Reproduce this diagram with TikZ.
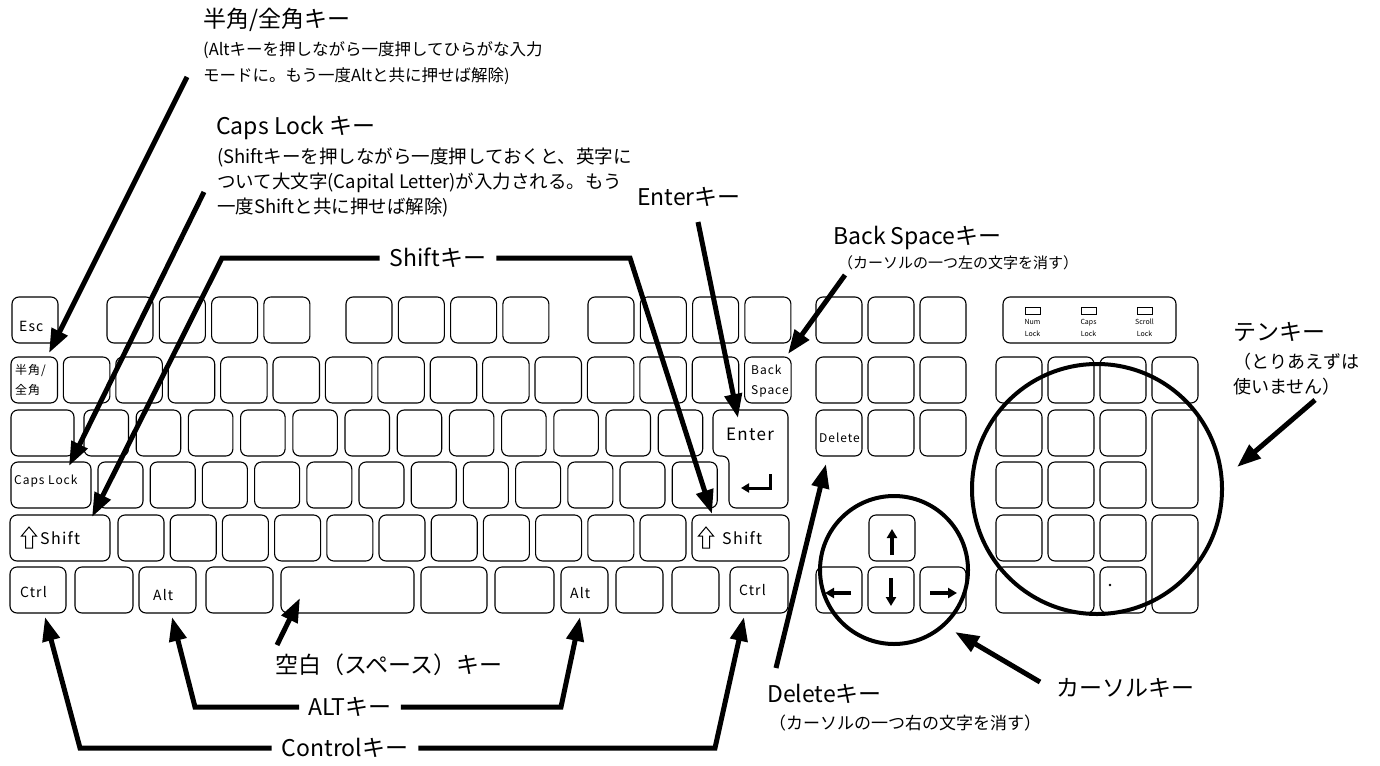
\documentclass[tikz,border=0pt]{standalone}
\usepackage{fontspec}
\newfontfamily\jp{Noto Sans CJK JP}
\newfontfamily\jpk[LetterSpace=8]{Noto Sans CJK JP}
\usetikzlibrary{arrows.meta}
\newcommand{\kb}[5]{\node[kbox, minimum width={(#4-#2)*1pt}, minimum height={(#5-#3)*1pt}] (#1) at ({(#2+#4)/2},{(#3+#5)/2}) {};}
\begin{document}
\begin{tikzpicture}[x=1pt,y=-1pt,
  kbox/.style={draw, rounded corners=7pt, line width=1.1pt, inner sep=0pt},
  ptr/.style={line width=5pt, -{Triangle[length=24pt,width=17pt]}},
  glyph/.style={line width=3.5pt, -{Triangle[length=9pt,width=10pt]}},
  ttl/.style={font=\jp\fontsize{23}{28}\selectfont, inner sep=0pt},
  sub/.style={font=\jp\fontsize{#1}{#1}\selectfont, inner sep=0pt, anchor=west},
  kl/.style={font=\jpk\fontsize{#1}{#1}\selectfont, inner sep=0pt, anchor=west},
  kl2/.style={font=\jpk\fontsize{12}{20}\selectfont, inner sep=0pt, anchor=west, align=left},
  led/.style={draw, line width=0.8pt, minimum width=15pt, minimum height=7pt, inner sep=0pt},
  ledt/.style={font=\jp\fontsize{7}{11.5}\selectfont, inner sep=0pt, align=center}
]
\useasboundingbox (0,0) rectangle (1380,765);

% ---------- row 1 ----------
\kb{esc}{12}{297}{58}{343}
\foreach \i in {0,...,3}{
  \pgfmathsetmacro\xa{107+52.3*\i}\kb{fa\i}{\xa}{297}{\xa+46}{343}
  \pgfmathsetmacro\xb{346+52.3*\i}\kb{fb\i}{\xb}{297}{\xb+46}{343}
  \pgfmathsetmacro\xc{588+52.3*\i}\kb{fc\i}{\xc}{297}{\xc+46}{343}
}
\foreach \i in {0,1,2}{
  \pgfmathsetmacro\xa{816+52*\i}
  \kb{na\i}{\xa}{297}{\xa+46}{343}
  \kb{nb\i}{\xa}{357}{\xa+46}{403}
  \kb{nc\i}{\xa}{410}{\xa+46}{456}
}
% ---------- row 2 ----------
\foreach \i in {0,...,14}{\pgfmathsetmacro\xa{11+52.4*\i}\kb{rb\i}{\xa}{357}{\xa+46.5}{403}}
% ---------- row 3 ----------
\kb{tab}{11}{410}{74}{456}
\foreach \i in {0,...,11}{\pgfmathsetmacro\xa{84+52.2*\i}\kb{rc\i}{\xa}{410}{\xa+44.5}{456}}
\draw[line width=1.1pt, rounded corners=7pt] (713,410) -- (788,410) -- (788,508) -- (729,508) -- (729,456) -- (713,456) -- cycle;
% ---------- row 4 ----------
\kb{caps}{11}{462}{91}{508}
\foreach \i in {0,...,11}{\pgfmathsetmacro\xa{98+52.2*\i}\kb{rd\i}{\xa}{462}{\xa+45}{508}}
% ---------- row 5 ----------
\kb{shl}{10}{515}{110}{561}
\foreach \i in {0,...,10}{\pgfmathsetmacro\xa{118+52.2*\i}\kb{re\i}{\xa}{515}{\xa+46}{561}}
\kb{shr}{692}{515}{789}{561}
% ---------- row 6 ----------
\kb{ctl}{10}{567}{66}{613}
\kb{rfa}{75}{567}{133}{613}
\kb{altl}{139}{567}{196}{613}
\kb{rfb}{206}{567}{273}{613}
\kb{spc}{281}{567}{414}{613}
\kb{rfc}{421}{567}{487}{613}
\kb{rfd}{495}{567}{554}{613}
\kb{altr}{561}{567}{608}{613}
\kb{rfe}{616}{567}{663}{613}
\kb{rff}{672}{567}{719}{613}
\kb{ctr}{730}{567}{788}{613}
% ---------- cursor keys ----------
\kb{kup}{869}{515}{915}{561}
\kb{kleft}{816}{567}{862}{613}
\kb{kdown}{868}{567}{914}{613}
\kb{kright}{920}{567}{966}{613}
% ---------- numpad ----------
\kb{ind}{1003}{297}{1176}{343}
\foreach \i in {0,1,2,3}{\pgfmathsetmacro\xa{996+52*\i}\kb{npa\i}{\xa}{357}{\xa+46}{403}}
\foreach \i in {0,1,2}{
  \pgfmathsetmacro\xa{996+52*\i}
  \kb{npb\i}{\xa}{410}{\xa+46}{456}
  \kb{npc\i}{\xa}{462}{\xa+46}{508}
  \kb{npd\i}{\xa}{515}{\xa+46}{561}
}
\kb{npplus}{1152}{410}{1198}{508}
\kb{npent}{1152}{515}{1198}{613}
\kb{npzero}{996}{567}{1094}{613}
\kb{npdot}{1100}{567}{1146}{613}
\fill (1110,585) circle (1.3pt);
% LEDs
\node[led] (led1) at (1032.5,310.5) {};
\node[led] (led2) at (1088.5,310.5) {};
\node[led] (led3) at (1144.5,310.5) {};
\node[ledt] (led1t) at (1032.5,328) {Num\\Lock};
\node[ledt] (led2t) at (1088.5,328) {Caps\\Lock};
\node[ledt] (led3t) at (1144.5,328) {Scroll\\Lock};

% ---------- key labels ----------
\node[kl=14] (tesc) at (19,326) {Esc};
\node[kl2] (thz) at (15,380) {半角/\\全角};
\node[kl2] (tbs) at (751,381) {Back\\Space};
\node[kl=17, anchor=center] (tent) at (750,434) {Enter};
\node[kl=12] (tcaps) at (14,481) {Caps Lock};
\node[kl=16] (tshl) at (40,538) {Shift};
\node[kl=16] (tshr) at (722,538) {Shift};
\node[kl=14] (tctl) at (20,592) {Ctrl};
\node[kl=14] (taltl) at (153,595) {Alt};
\node[kl=14] (taltr) at (570,593) {Alt};
\node[kl=14] (tctr) at (739,590) {Ctrl};
\node[kl=12] (tdel) at (819,438) {Delete};
% shift glyphs
\draw[line width=1pt, line join=miter] (29,527) -- (36.5,536) -- (32.5,536) -- (32.5,548) -- (25.5,548) -- (25.5,536) -- (21.5,536) -- cycle;
\draw[line width=1pt, line join=miter] (706,527) -- (713.5,536) -- (709.5,536) -- (709.5,548) -- (702.5,548) -- (702.5,536) -- (698.5,536) -- cycle;
% return glyph
\draw[line width=3pt, -{Triangle[length=8pt,width=9pt]}] (770,474) -- (770,488) -- (741,488);
% arrow glyphs
\draw[glyph] (892,555) -- (892,529);
\draw[glyph] (891,578) -- (891,606);
\draw[glyph] (851,593) -- (825,593);
\draw[glyph] (930,593) -- (957,593);

% ---------- circles ----------
\node[draw, circle, line width=4pt, minimum size=148pt, inner sep=0pt] (ccur) at (894,570) {};
\node[draw, circle, line width=4pt, minimum size=250pt, inner sep=0pt] (cten) at (1097,489) {};

% ---------- titles & descriptions ----------
\node[ttl, anchor=west] (lhan) at (203,20) {半角/全角キー};
\node[sub=16.5] (dhan1) at (203,50) {(Altキーを押しながら一度押してひらがな入力};
\node[sub=16.5] (dhan2) at (203,76) {モードに。もう一度Altと共に押せば解除)};
\node[ttl, anchor=west] (lcaps) at (216,128) {Caps Lock キー};
\node[sub=18.5] (dcaps1) at (217,157) {(Shiftキーを押しながら一度押しておくと、英字に};
\node[sub=18.5] (dcaps2) at (217,183) {ついて大文字(Capital Letter)が入力される。もう};
\node[sub=18.5] (dcaps3) at (217,208) {一度Shiftと共に押せば解除)};
\node[ttl, anchor=west] (lent) at (637,197) {Enterキー};
\node[ttl, anchor=west] (lbs) at (833,238) {Back Spaceキー};
\node[sub=15] (dbs) at (838,263) {（カーソルの一つ左の文字を消す）};
\node[ttl, inner xsep=10pt] (lshift) at (438,258) {Shiftキー};
\node[ttl, anchor=west] (lten) at (1233,332) {テンキー};
\node[sub=18] (dten1) at (1233,362) {（とりあえずは};
\node[sub=18] (dten2) at (1233,387) {使いません）};
\node[ttl, anchor=west] (lsp) at (275,665) {空白（スペース）キー};
\node[ttl, inner xsep=9pt] (lalt) at (350,707) {ALTキー};
\node[ttl, inner xsep=10pt] (lctl) at (345,748) {Controlキー};
\node[ttl, anchor=west] (ldel) at (767,694) {Deleteキー};
\node[sub=17] (ddel) at (769,723) {（カーソルの一つ右の文字を消す）};
\node[ttl, anchor=west] (lcur) at (1056,688) {カーソルキー};

% ---------- connector points ----------
\coordinate (sHan) at (187,77);   \coordinate (tHan) at (49,353);
\coordinate (sCaps) at (204,192); \coordinate (tCaps) at (69,466);
\coordinate (bShL) at (222,258);  \coordinate (tShL) at (92,517);
\coordinate (bShR) at (630,258);  \coordinate (tShR) at (712,514);
\coordinate (sEnt) at (698,222);  \coordinate (tEnt) at (738,418);
\coordinate (sBS) at (845,275);   \coordinate (tBS) at (788,354);
\coordinate (bCL) at (80,748);    \coordinate (tCL) at (45,617);
\coordinate (bCR) at (715,748);   \coordinate (tCR) at (744,617);
\coordinate (bAL) at (195,707);   \coordinate (tAL) at (172,617);
\coordinate (bAR) at (561,707);   \coordinate (tAR) at (580,617);
\coordinate (sSp) at (277,645);   \coordinate (tSp) at (300,598);
\coordinate (sDel) at (776,668);  \coordinate (tDel) at (826,464);
\coordinate (sCur) at (1040,682); \coordinate (tCur) at (955,632);
\coordinate (sTen) at (1315,400); \coordinate (tTen) at (1237,467);

% ---------- connectors ----------
\draw[ptr] (sHan) -- (tHan);
\draw[ptr] (sCaps) -- (tCaps);
\draw[ptr] (lshift.west) -- (bShL) -- (tShL);
\draw[ptr] (lshift.east) -- (bShR) -- (tShR);
\draw[ptr] (sEnt) -- (tEnt);
\draw[ptr] (sBS) -- (tBS);
\draw[ptr] (lctl.west) -- (bCL) -- (tCL);
\draw[ptr] (lctl.east) -- (bCR) -- (tCR);
\draw[ptr] (lalt.west) -- (bAL) -- (tAL);
\draw[ptr] (lalt.east) -- (bAR) -- (tAR);
\draw[ptr] (sSp) -- (tSp);
\draw[ptr] (sDel) -- (tDel);
\draw[ptr] (sCur) -- (tCur);
\draw[ptr] (sTen) -- (tTen);
\end{tikzpicture}
\end{document}
